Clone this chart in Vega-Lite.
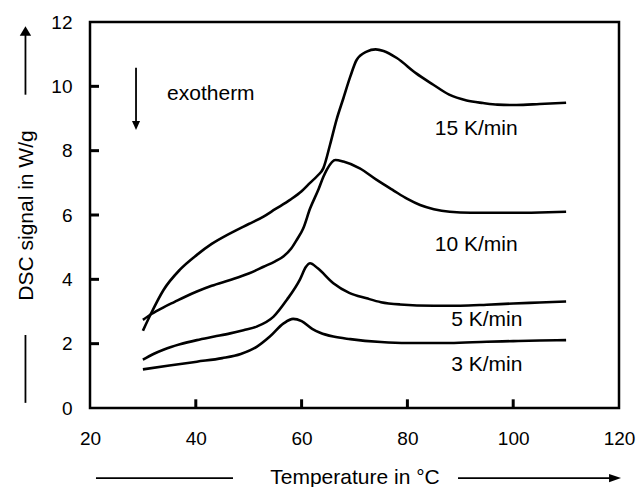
{
  "$schema": "https://vega.github.io/schema/vega-lite/v6.json",
  "width": 529,
  "height": 386,
  "autosize": {"type": "none"},
  "padding": {"left": 90, "top": 22, "right": 17, "bottom": 79},
  "background": "white",
  "config": {
    "view": {"stroke": "black", "strokeWidth": 2.5},
    "axis": {
      "grid": false,
      "domain": false,
      "tickOpacity": 0,
      "tickSize": 8,
      "labelFlush": false,
      "labelFont": "Liberation Sans",
      "labelFontSize": 19,
      "labelColor": "black",
      "titleFont": "Liberation Sans",
      "titleFontSize": 21,
      "titleFontWeight": "normal",
      "titleColor": "black"
    },
    "text": {"font": "Liberation Sans", "fontSize": 21, "color": "black"}
  },
  "datasets": {
    "curves": [
      {"rate": "3 K/min", "T": 30, "S": 1.2},
      {"rate": "3 K/min", "T": 35, "S": 1.32},
      {"rate": "3 K/min", "T": 40.2, "S": 1.44},
      {"rate": "3 K/min", "T": 45, "S": 1.55},
      {"rate": "3 K/min", "T": 48.5, "S": 1.68},
      {"rate": "3 K/min", "T": 51.5, "S": 1.9},
      {"rate": "3 K/min", "T": 54, "S": 2.22},
      {"rate": "3 K/min", "T": 56.6, "S": 2.63},
      {"rate": "3 K/min", "T": 58.4, "S": 2.77},
      {"rate": "3 K/min", "T": 60, "S": 2.7},
      {"rate": "3 K/min", "T": 62, "S": 2.46},
      {"rate": "3 K/min", "T": 63.5, "S": 2.34},
      {"rate": "3 K/min", "T": 66, "S": 2.22},
      {"rate": "3 K/min", "T": 69.2, "S": 2.14},
      {"rate": "3 K/min", "T": 75, "S": 2.05},
      {"rate": "3 K/min", "T": 80, "S": 2.02},
      {"rate": "3 K/min", "T": 88, "S": 2.02},
      {"rate": "3 K/min", "T": 95, "S": 2.06},
      {"rate": "3 K/min", "T": 100, "S": 2.08},
      {"rate": "3 K/min", "T": 105, "S": 2.1},
      {"rate": "3 K/min", "T": 110, "S": 2.11},
      {"rate": "5 K/min", "T": 30, "S": 1.5},
      {"rate": "5 K/min", "T": 32, "S": 1.68},
      {"rate": "5 K/min", "T": 34, "S": 1.82},
      {"rate": "5 K/min", "T": 37, "S": 1.98},
      {"rate": "5 K/min", "T": 40.2, "S": 2.11},
      {"rate": "5 K/min", "T": 43.5, "S": 2.22},
      {"rate": "5 K/min", "T": 46.5, "S": 2.32},
      {"rate": "5 K/min", "T": 49, "S": 2.42},
      {"rate": "5 K/min", "T": 51.5, "S": 2.53},
      {"rate": "5 K/min", "T": 54.7, "S": 2.84},
      {"rate": "5 K/min", "T": 57.2, "S": 3.36},
      {"rate": "5 K/min", "T": 59.7, "S": 4.0},
      {"rate": "5 K/min", "T": 60.8, "S": 4.38},
      {"rate": "5 K/min", "T": 61.6, "S": 4.5},
      {"rate": "5 K/min", "T": 63, "S": 4.35},
      {"rate": "5 K/min", "T": 66, "S": 3.88},
      {"rate": "5 K/min", "T": 69, "S": 3.58},
      {"rate": "5 K/min", "T": 72.3, "S": 3.41},
      {"rate": "5 K/min", "T": 75, "S": 3.29},
      {"rate": "5 K/min", "T": 78.6, "S": 3.22},
      {"rate": "5 K/min", "T": 85, "S": 3.18},
      {"rate": "5 K/min", "T": 90, "S": 3.18},
      {"rate": "5 K/min", "T": 95, "S": 3.21},
      {"rate": "5 K/min", "T": 100, "S": 3.25},
      {"rate": "5 K/min", "T": 105, "S": 3.28},
      {"rate": "5 K/min", "T": 110, "S": 3.31},
      {"rate": "10 K/min", "T": 30, "S": 2.74},
      {"rate": "10 K/min", "T": 31.7, "S": 2.93},
      {"rate": "10 K/min", "T": 33.9, "S": 3.13},
      {"rate": "10 K/min", "T": 36, "S": 3.3},
      {"rate": "10 K/min", "T": 38, "S": 3.46},
      {"rate": "10 K/min", "T": 40.2, "S": 3.62},
      {"rate": "10 K/min", "T": 43, "S": 3.8},
      {"rate": "10 K/min", "T": 46.5, "S": 3.98},
      {"rate": "10 K/min", "T": 50, "S": 4.18},
      {"rate": "10 K/min", "T": 52.8, "S": 4.39},
      {"rate": "10 K/min", "T": 55, "S": 4.56},
      {"rate": "10 K/min", "T": 56.6, "S": 4.72},
      {"rate": "10 K/min", "T": 58, "S": 4.95},
      {"rate": "10 K/min", "T": 59.1, "S": 5.23},
      {"rate": "10 K/min", "T": 60.3, "S": 5.58},
      {"rate": "10 K/min", "T": 61.6, "S": 6.2},
      {"rate": "10 K/min", "T": 63.2, "S": 6.8},
      {"rate": "10 K/min", "T": 64.1, "S": 7.18},
      {"rate": "10 K/min", "T": 64.8, "S": 7.42},
      {"rate": "10 K/min", "T": 66.4, "S": 7.71},
      {"rate": "10 K/min", "T": 67.9, "S": 7.66},
      {"rate": "10 K/min", "T": 71, "S": 7.45},
      {"rate": "10 K/min", "T": 74.2, "S": 7.09},
      {"rate": "10 K/min", "T": 77.4, "S": 6.76},
      {"rate": "10 K/min", "T": 80, "S": 6.5},
      {"rate": "10 K/min", "T": 82.4, "S": 6.31},
      {"rate": "10 K/min", "T": 85, "S": 6.18},
      {"rate": "10 K/min", "T": 88, "S": 6.1},
      {"rate": "10 K/min", "T": 92, "S": 6.07},
      {"rate": "10 K/min", "T": 100, "S": 6.07},
      {"rate": "10 K/min", "T": 105, "S": 6.08},
      {"rate": "10 K/min", "T": 110, "S": 6.1},
      {"rate": "15 K/min", "T": 30, "S": 2.4},
      {"rate": "15 K/min", "T": 31.4, "S": 2.89},
      {"rate": "15 K/min", "T": 33.9, "S": 3.67},
      {"rate": "15 K/min", "T": 37, "S": 4.3},
      {"rate": "15 K/min", "T": 40.2, "S": 4.76},
      {"rate": "15 K/min", "T": 43, "S": 5.1},
      {"rate": "15 K/min", "T": 46.5, "S": 5.43},
      {"rate": "15 K/min", "T": 50, "S": 5.72},
      {"rate": "15 K/min", "T": 52.8, "S": 5.95},
      {"rate": "15 K/min", "T": 55, "S": 6.18},
      {"rate": "15 K/min", "T": 57.8, "S": 6.47},
      {"rate": "15 K/min", "T": 60, "S": 6.74},
      {"rate": "15 K/min", "T": 61.6, "S": 7.0},
      {"rate": "15 K/min", "T": 63, "S": 7.22},
      {"rate": "15 K/min", "T": 64.1, "S": 7.45},
      {"rate": "15 K/min", "T": 65.4, "S": 8.2},
      {"rate": "15 K/min", "T": 66.6, "S": 8.96},
      {"rate": "15 K/min", "T": 67.9, "S": 9.63},
      {"rate": "15 K/min", "T": 69.2, "S": 10.3},
      {"rate": "15 K/min", "T": 70.4, "S": 10.82},
      {"rate": "15 K/min", "T": 72.3, "S": 11.08},
      {"rate": "15 K/min", "T": 74, "S": 11.15},
      {"rate": "15 K/min", "T": 75.5, "S": 11.1},
      {"rate": "15 K/min", "T": 78, "S": 10.88},
      {"rate": "15 K/min", "T": 81.6, "S": 10.41},
      {"rate": "15 K/min", "T": 84.9, "S": 10.05},
      {"rate": "15 K/min", "T": 87.9, "S": 9.74},
      {"rate": "15 K/min", "T": 91.2, "S": 9.56},
      {"rate": "15 K/min", "T": 94.3, "S": 9.48},
      {"rate": "15 K/min", "T": 97, "S": 9.43},
      {"rate": "15 K/min", "T": 100.6, "S": 9.42},
      {"rate": "15 K/min", "T": 105, "S": 9.45},
      {"rate": "15 K/min", "T": 110, "S": 9.49}
    ],
    "labels": [
      {"label": "15 K/min", "T": 93.0, "S": 8.68},
      {"label": "10 K/min", "T": 93.0, "S": 5.07},
      {"label": "5 K/min", "T": 95.0, "S": 2.74},
      {"label": "3 K/min", "T": 95.0, "S": 1.34}
    ],
    "xticks": [{"T": 40}, {"T": 60}, {"T": 80}, {"T": 100}],
    "yticks": [{"S": 2}, {"S": 4}, {"S": 6}, {"S": 8}, {"S": 10}],
    "segments": [
      {"part": "y-arrow", "x1": 7.8, "y1": 9.74, "x2": 7.8, "y2": 11.7},
      {"part": "y-line", "x1": 7.8, "y1": 0.16, "x2": 7.8, "y2": 2.27},
      {"part": "exo-arrow", "x1": 28.7, "y1": 10.58, "x2": 28.7, "y2": 8.8},
      {"part": "x-line", "x1": 21.13, "y1": -2.18, "x2": 47.03, "y2": -2.18},
      {"part": "x-arrow", "x1": 89.57, "y1": -2.18, "x2": 119.3, "y2": -2.18}
    ],
    "heads": [
      {"dir": "up", "x": 7.8, "y": 11.72},
      {"dir": "down", "x": 28.7, "y": 8.78},
      {"dir": "right", "x": 119.25, "y": -2.18}
    ]
  },
  "layer": [
    {
      "data": {"name": "curves"},
      "mark": {"type": "line", "color": "black", "strokeWidth": 2.6, "interpolate": "monotone"},
      "encoding": {
        "x": {
          "field": "T", "type": "quantitative",
          "scale": {"domain": [20, 120], "nice": false, "zero": false},
          "axis": {
            "values": [20, 40, 60, 80, 100, 120],
            "title": "Temperature in °C",
            "labelPadding": 13,
            "titleX": 264.5, "titleY": 75,
            "titleAlign": "center", "titleBaseline": "alphabetic"
          }
        },
        "y": {
          "field": "S", "type": "quantitative",
          "scale": {"domain": [0, 12], "nice": false, "zero": false},
          "axis": {
            "values": [0, 2, 4, 6, 8, 10, 12],
            "title": "DSC signal in W/g",
            "labelPadding": 10,
            "titleAngle": -90,
            "titleX": -58, "titleY": 193,
            "titleAlign": "center", "titleBaseline": "alphabetic"
          }
        },
        "detail": {"field": "rate", "type": "nominal"}
      }
    },
    {
      "data": {"name": "labels"},
      "mark": {"type": "text", "align": "center", "baseline": "middle"},
      "encoding": {
        "x": {"field": "T", "type": "quantitative"},
        "y": {"field": "S", "type": "quantitative"},
        "text": {"field": "label"}
      }
    },
    {
      "data": {"values": [{"note": "exotherm", "T": 34.57, "S": 9.56}]},
      "mark": {"type": "text", "align": "left", "baseline": "alphabetic"},
      "encoding": {
        "x": {"field": "T", "type": "quantitative"},
        "y": {"field": "S", "type": "quantitative"},
        "text": {"field": "note"}
      }
    },
    {
      "data": {"name": "segments"},
      "mark": {"type": "rule", "color": "black", "strokeWidth": 1.8, "clip": false},
      "encoding": {
        "x": {"field": "x1", "type": "quantitative"},
        "x2": {"field": "x2"},
        "y": {"field": "y1", "type": "quantitative"},
        "y2": {"field": "y2"}
      }
    },
    {
      "data": {"name": "heads"},
      "transform": [{"filter": "datum.dir === 'up'"}],
      "mark": {"type": "point", "shape": "M0,-0.8L0.95,0.8L-0.95,0.8Z", "size": 144, "filled": true, "color": "black", "opacity": 1, "clip": false},
      "encoding": {
        "x": {"field": "x", "type": "quantitative"},
        "y": {"field": "y", "type": "quantitative"}
      }
    },
    {
      "data": {"name": "heads"},
      "transform": [{"filter": "datum.dir === 'down'"}],
      "mark": {"type": "point", "shape": "M0,0.75L-0.67,-0.75L0.67,-0.75Z", "size": 144, "filled": true, "color": "black", "opacity": 1, "clip": false},
      "encoding": {
        "x": {"field": "x", "type": "quantitative"},
        "y": {"field": "y", "type": "quantitative"}
      }
    },
    {
      "data": {"name": "heads"},
      "transform": [{"filter": "datum.dir === 'right'"}],
      "mark": {"type": "point", "shape": "M1,0L-1,-0.67L-1,0.67Z", "size": 144, "filled": true, "color": "black", "opacity": 1, "clip": false},
      "encoding": {
        "x": {"field": "x", "type": "quantitative"},
        "y": {"field": "y", "type": "quantitative"}
      }
    },
    {
      "data": {"name": "xticks"},
      "mark": {"type": "rule", "color": "black", "strokeWidth": 3, "opacity": 1},
      "encoding": {
        "x": {"field": "T", "type": "quantitative"},
        "y": {"datum": 0, "type": "quantitative"},
        "y2": {"datum": 0.27}
      }
    },
    {
      "data": {"name": "yticks"},
      "mark": {"type": "rule", "color": "black", "strokeWidth": 3, "opacity": 1},
      "encoding": {
        "x": {"datum": 20, "type": "quantitative"},
        "x2": {"datum": 21.7},
        "y": {"field": "S", "type": "quantitative"}
      }
    }
  ]
}
